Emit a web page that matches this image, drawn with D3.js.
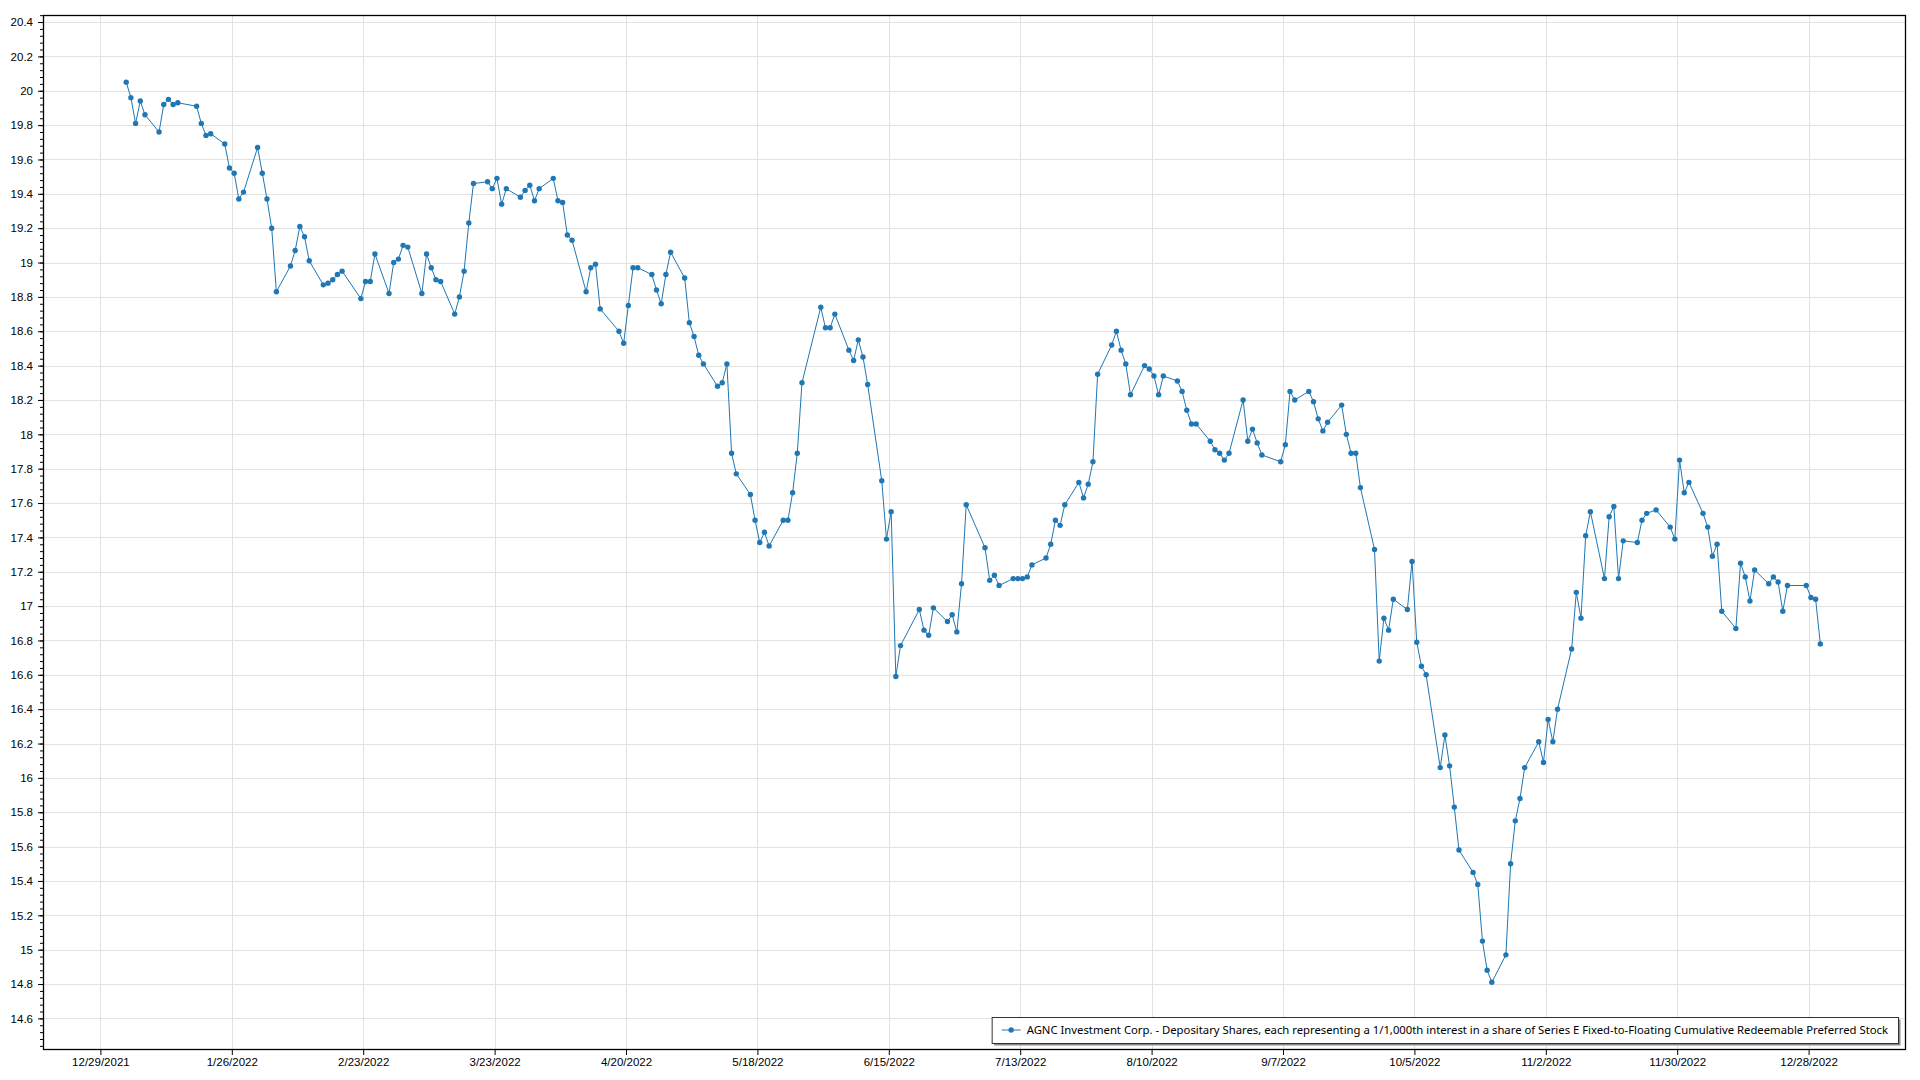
<!DOCTYPE html>
<html><head><meta charset="utf-8">
<script src="https://cdn.jsdelivr.net/npm/d3@7"></script>
<style>
body{margin:0;background:#fff;}
svg{display:block;font-family:"Segoe UI","Noto Sans","Open Sans",sans-serif;}
</style>
</head><body>
<svg id="chart" width="1920" height="1080"></svg>
<script>
const seriesName = "AGNC Investment Corp. - Depositary Shares, each representing a 1/1,000th interest in a share of Series E Fixed-to-Floating Cumulative Redeemable Preferred Stock";

const dates = [
"2022-01-03","2022-01-04","2022-01-05","2022-01-06","2022-01-07","2022-01-10","2022-01-11","2022-01-12","2022-01-13","2022-01-14",
"2022-01-18","2022-01-19","2022-01-20","2022-01-21","2022-01-24","2022-01-25","2022-01-26","2022-01-27","2022-01-28","2022-01-31",
"2022-02-01","2022-02-02","2022-02-03","2022-02-04","2022-02-07","2022-02-08","2022-02-09","2022-02-10","2022-02-11","2022-02-14",
"2022-02-15","2022-02-16","2022-02-17","2022-02-18","2022-02-22","2022-02-23","2022-02-24","2022-02-25","2022-02-28",
"2022-03-01","2022-03-02","2022-03-03","2022-03-04","2022-03-07","2022-03-08","2022-03-09","2022-03-10","2022-03-11","2022-03-14",
"2022-03-15","2022-03-16","2022-03-17","2022-03-18","2022-03-21","2022-03-22","2022-03-23","2022-03-24","2022-03-25","2022-03-28",
"2022-03-29","2022-03-30","2022-03-31",
"2022-04-01","2022-04-04","2022-04-05","2022-04-06","2022-04-07","2022-04-08","2022-04-11","2022-04-12","2022-04-13","2022-04-14",
"2022-04-18","2022-04-19","2022-04-20","2022-04-21","2022-04-22","2022-04-25","2022-04-26","2022-04-27","2022-04-28","2022-04-29",
"2022-05-02","2022-05-03","2022-05-04","2022-05-05","2022-05-06","2022-05-09","2022-05-10","2022-05-11","2022-05-12","2022-05-13",
"2022-05-16","2022-05-17","2022-05-18","2022-05-19","2022-05-20","2022-05-23","2022-05-24","2022-05-25","2022-05-26","2022-05-27",
"2022-05-31",
"2022-06-01","2022-06-02","2022-06-03","2022-06-06","2022-06-07","2022-06-08","2022-06-09","2022-06-10","2022-06-13","2022-06-14",
"2022-06-15","2022-06-16","2022-06-17","2022-06-21","2022-06-22","2022-06-23","2022-06-24","2022-06-27","2022-06-28","2022-06-29",
"2022-06-30",
"2022-07-01","2022-07-05","2022-07-06","2022-07-07","2022-07-08","2022-07-11","2022-07-12","2022-07-13","2022-07-14","2022-07-15",
"2022-07-18","2022-07-19","2022-07-20","2022-07-21","2022-07-22","2022-07-25","2022-07-26","2022-07-27","2022-07-28","2022-07-29",
"2022-08-01","2022-08-02","2022-08-03","2022-08-04","2022-08-05","2022-08-08","2022-08-09","2022-08-10","2022-08-11","2022-08-12",
"2022-08-15","2022-08-16","2022-08-17","2022-08-18","2022-08-19","2022-08-22","2022-08-23","2022-08-24","2022-08-25","2022-08-26",
"2022-08-29","2022-08-30","2022-08-31",
"2022-09-01","2022-09-02","2022-09-06","2022-09-07","2022-09-08","2022-09-09","2022-09-12","2022-09-13","2022-09-14","2022-09-15",
"2022-09-16","2022-09-19","2022-09-20","2022-09-21","2022-09-22","2022-09-23","2022-09-26","2022-09-27","2022-09-28","2022-09-29",
"2022-09-30",
"2022-10-03","2022-10-04","2022-10-05","2022-10-06","2022-10-07","2022-10-10","2022-10-11","2022-10-12","2022-10-13","2022-10-14",
"2022-10-17","2022-10-18","2022-10-19","2022-10-20","2022-10-21","2022-10-24","2022-10-25","2022-10-26","2022-10-27","2022-10-28",
"2022-10-31",
"2022-11-01","2022-11-02","2022-11-03","2022-11-04","2022-11-07","2022-11-08","2022-11-09","2022-11-10","2022-11-11","2022-11-14",
"2022-11-15","2022-11-16","2022-11-17","2022-11-18","2022-11-21","2022-11-22","2022-11-23","2022-11-25","2022-11-28","2022-11-29",
"2022-11-30",
"2022-12-01","2022-12-02","2022-12-05","2022-12-06","2022-12-07","2022-12-08","2022-12-09","2022-12-12","2022-12-13","2022-12-14",
"2022-12-15","2022-12-16","2022-12-19","2022-12-20","2022-12-21","2022-12-22","2022-12-23","2022-12-27","2022-12-28","2022-12-29",
"2022-12-30"
];

const prices = [
20.05,19.96,19.81,19.94,19.86,19.76,19.92,19.95,19.92,19.93,
19.91,19.81,19.74,19.75,19.69,19.55,19.52,19.37,19.41,19.67,
19.52,19.37,19.20,18.83,18.98,19.07,19.21,19.15,19.01,18.87,
18.88,18.90,18.93,18.95,18.79,18.89,18.89,19.05,18.82,
19.00,19.02,19.10,19.09,18.82,19.05,18.97,18.90,18.89,18.70,
18.80,18.95,19.23,19.46,19.47,19.43,19.49,19.34,19.43,19.38,
19.42,19.45,19.36,
19.43,19.49,19.36,19.35,19.16,19.13,18.83,18.97,18.99,18.73,
18.60,18.53,18.75,18.97,18.97,18.93,18.84,18.76,18.93,19.06,
18.91,18.65,18.57,18.46,18.41,18.28,18.30,18.41,17.89,17.77,
17.65,17.50,17.37,17.43,17.35,17.50,17.50,17.66,17.89,18.30,
18.74,
18.62,18.62,18.70,18.49,18.43,18.55,18.45,18.29,17.73,17.39,
17.55,16.59,16.77,16.98,16.86,16.83,16.99,16.91,16.95,16.85,
17.13,
17.59,17.34,17.15,17.18,17.12,17.16,17.16,17.16,17.17,17.24,
17.28,17.36,17.50,17.47,17.59,17.72,17.63,17.71,17.84,18.35,
18.52,18.60,18.49,18.41,18.23,18.40,18.38,18.34,18.23,18.34,
18.31,18.25,18.14,18.06,18.06,17.96,17.91,17.89,17.85,17.89,
18.20,17.96,18.03,
17.95,17.88,17.84,17.94,18.25,18.20,18.25,18.19,18.09,18.02,
18.07,18.17,18.00,17.89,17.89,17.69,17.33,16.68,16.93,16.86,
17.04,
16.98,17.26,16.79,16.65,16.60,16.06,16.25,16.07,15.83,15.58,
15.45,15.38,15.05,14.88,14.81,14.97,15.50,15.75,15.88,16.06,
16.21,
16.09,16.34,16.21,16.40,16.75,17.08,16.93,17.41,17.55,17.16,
17.52,17.58,17.16,17.38,17.37,17.50,17.54,17.56,17.46,17.39,
17.85,
17.66,17.72,17.54,17.46,17.29,17.36,16.97,16.87,17.25,17.17,
17.03,17.21,17.13,17.17,17.14,16.97,17.12,17.12,17.05,17.04,
16.78
];

const xTickLabels = ["2021-12-29","2022-01-26","2022-02-23","2022-03-23","2022-04-20","2022-05-18","2022-06-15",
  "2022-07-13","2022-08-10","2022-09-07","2022-10-05","2022-11-02","2022-11-30","2022-12-28"];
const yTicks = [14.6,14.8,15,15.2,15.4,15.6,15.8,16,16.2,16.4,16.6,16.8,17,17.2,17.4,17.6,17.8,18,18.2,18.4,18.6,18.8,19,19.2,19.4,19.6,19.8,20,20.2,20.4];
const yDomain = [14.416, 20.441];
const yMinorStep = 0.04;

const color = "#1f77b4";
const L = 43, T = 15, R = 1906, B = 1050;

const parse = d3.timeParse("%Y-%m-%d");
const data = dates.map((d, i) => ({date: d3.timeHour.offset(parse(d), 12), v: prices[i]}));
const xTicks = xTickLabels.map(parse);

const x = d3.scaleTime().domain([xTicks[0], xTicks[xTicks.length - 1]]).range([100.4, 1808.6]);
const y = d3.scaleLinear().domain(yDomain).range([B, T]);

const svg = d3.select("#chart");

// gridlines
const grid = svg.append("g").attr("stroke", "#e2e2e2").attr("stroke-width", 1);
grid.selectAll(".gx").data(xTicks).join("line")
  .attr("x1", d => Math.round(x(d)) + 0.5).attr("x2", d => Math.round(x(d)) + 0.5)
  .attr("y1", T).attr("y2", B);
grid.selectAll(".gy").data(yTicks).join("line")
  .attr("x1", L).attr("x2", R)
  .attr("y1", d => Math.round(y(d)) + 0.5).attr("y2", d => Math.round(y(d)) + 0.5);

// series
const plot = svg.append("g");
plot.append("path").datum(data)
  .attr("fill", "none").attr("stroke", color).attr("stroke-width", 1)
  .attr("d", d3.line().x(d => x(d.date)).y(d => y(d.v)));
plot.selectAll("circle").data(data).join("circle")
  .attr("cx", d => x(d.date)).attr("cy", d => y(d.v)).attr("r", 2.7).attr("fill", color);

// axes
const fmtY = d => String(+d.toFixed(1));
const minor = d3.range(Math.ceil(yDomain[0] / yMinorStep), Math.floor(yDomain[1] / yMinorStep) + 1).map(k => +(k * yMinorStep).toFixed(2));

const yMinorAxis = svg.append("g").attr("transform", `translate(${L},0)`)
  .call(d3.axisLeft(y).tickValues(minor).tickSize(3).tickFormat(""));
yMinorAxis.select(".domain").remove();
yMinorAxis.selectAll("line").attr("stroke", "#000");

const yAxis = svg.append("g").attr("transform", `translate(${L},0)`)
  .call(d3.axisLeft(y).tickValues(yTicks).tickSize(5).tickPadding(5).tickFormat(fmtY));
yAxis.select(".domain").remove();
yAxis.selectAll("text").attr("font-size", 11.5).attr("fill", "#000").style("font-family", "inherit");
yAxis.selectAll("line").attr("stroke", "#000");

const xAxis = svg.append("g").attr("transform", `translate(0,${B})`)
  .call(d3.axisBottom(x).tickValues(xTicks).tickSize(5).tickPadding(3).tickFormat(d3.timeFormat("%-m/%-d/%Y")));
xAxis.select(".domain").remove();
xAxis.selectAll("text").attr("font-size", 11.5).attr("fill", "#000").style("font-family", "inherit");
xAxis.selectAll("line").attr("stroke", "#000");

// border
svg.append("rect").attr("x", L + 0.5).attr("y", T + 0.5).attr("width", R - L - 1).attr("height", B - T - 1)
  .attr("fill", "none").attr("stroke", "#000").attr("stroke-width", 1.3);

// legend
const lg = svg.append("g");
const boxRight = 1898, boxTop = 1017, boxBottom = 1043;
const txt = lg.append("text").attr("y", (boxTop + boxBottom) / 2).attr("dy", "0.35em")
  .attr("font-size", 11.3).attr("fill", "#000").text(seriesName);
const w = txt.node().getComputedTextLength();
const boxLeft = boxRight - 10 - w - 6 - 19 - 10;
txt.attr("x", boxLeft + 35);
lg.insert("rect", "text").attr("x", boxLeft + 2.5).attr("y", boxTop + 2.5).attr("width", boxRight - boxLeft).attr("height", boxBottom - boxTop)
  .attr("fill", "#8a8a8a");
lg.insert("rect", "text").attr("x", boxLeft + 0.5).attr("y", boxTop + 0.5).attr("width", boxRight - boxLeft).attr("height", boxBottom - boxTop)
  .attr("fill", "#fff").attr("stroke", "#333").attr("stroke-width", 1);
const cy = (boxTop + boxBottom) / 2;
lg.append("line").attr("x1", boxLeft + 10).attr("x2", boxLeft + 29).attr("y1", cy).attr("y2", cy)
  .attr("stroke", color).attr("stroke-width", 1);
lg.append("circle").attr("cx", boxLeft + 19.5).attr("cy", cy).attr("r", 2.7).attr("fill", color);
</script>
</body></html>
